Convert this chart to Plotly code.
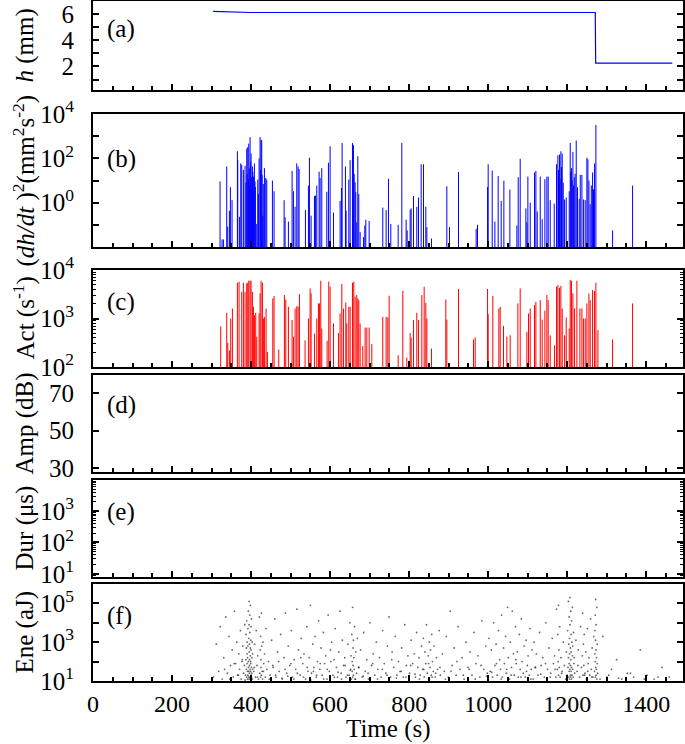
import plotly.graph_objects as go

# ---------------- data ----------------
# (a) sample height h (mm)
h_time = [304, 400, 1271, 1272, 1466]
h_val = [6.20, 6.12, 6.12, 2.25, 2.25]

# (b) (dh/dt)^2 spikes
b_time = [321.5, 326.6, 330, 338.4, 341, 345.2, 347.7, 351.9, 365.4, 366.3, 370.5, 373.9, 376.4,
          380.6, 384.8, 387, 389, 390, 391.6, 393, 394.1, 395.5, 396.5, 397.5, 399, 400, 401.5, 402,
          403.4, 404.5, 405.9, 407, 408.5, 410, 411, 414.4, 416.9, 418.5, 420.3, 422.8, 424, 425.3,
          427, 428, 429.6, 431, 433.8, 437.1, 439.7, 454, 458.2, 483.6, 486.1, 494.5, 503.8, 507.2,
          511.4, 515.6, 519, 521.5, 537.6, 545.2, 547.7, 551.9, 560.4, 562.9, 566.3, 572.2, 574.7,
          578.9, 591.6, 595.8, 600, 608.5, 625.3, 628.7, 630.4, 638.8, 640.5, 647.3, 650.7, 656.6,
          659.1, 661, 663.3, 665, 667.5, 670.1, 672.6, 676, 684.4, 687.8, 690.3, 698.8, 733.3, 741.8,
          747.7, 753.6, 772.2, 781.5, 792.4, 795, 802.6, 805.1, 811, 819.4, 823.6, 830.4, 836.3,
          842.2, 844.8, 856.5, 895.4, 902.1, 924.9, 969.6, 973, 998.4, 1000, 1010.2, 1016.9, 1025.3,
          1032.9, 1039.7, 1054.9, 1072.6, 1076, 1081, 1095.4, 1097.9, 1100.5, 1106.4, 1117.3, 1120.7,
          1124.1, 1131.7, 1136.7, 1143.5, 1148.5, 1151.9, 1157, 1167.1, 1173, 1176.4, 1178, 1180.6,
          1182, 1184, 1185.5, 1187.4, 1190, 1193.3, 1197.5, 1205.1, 1207.6, 1209, 1211, 1212.5,
          1214.4, 1216, 1217.8, 1220, 1222.8, 1226, 1230.4, 1233, 1237.2, 1241.4, 1245.6, 1249.8,
          1252.4, 1255, 1258.2, 1261, 1264.2, 1266.5, 1269.2, 1272.6, 1314.8, 1365.4]
b_val = [9.1, 0.022, 0.022, 43, 0.083, 0.43, 5.0, 1.3, 210, 83, 0.23, 59, 50,
         30, 46, 8.0, 275, 20, 325, 12, 460, 35, 6.0, 900, 70, 165, 14, 4.0,
         43, 25, 15, 3.0, 59, 9.0, 5.1, 0.11, 11, 2.5, 100, 900, 30, 690,
         640, 18, 0.26, 7.0, 36, 13, 11, 10, 3.3, 1.3, 0.22, 0.14, 27, 3.3,
         0.66, 59, 43, 33, 0.46, 5.9, 107, 0.26, 2.0, 2.1, 5.9, 25, 13,
         36, 3.1, 63, 350, 0.36, 1.2, 4.6, 490, 43, 0.43, 11, 83, 490,
         390, 20, 8.3, 3.0, 0.13, 125, 2.5, 0.047, 0.028, 0.093, 0.17, 0.15, 0.60, 0.46,
         12, 0.11, 0.10, 500, 0.17, 0.056, 0.48, 0.55, 2.0, 0.65, 1.7, 54, 54,
         0.66, 0.079, 0.024, 5.5, 0.079, 24, 0.066, 0.10, 5.1, 54, 28, 0.14, 16,
         1.2, 9.8, 3.9, 0.093, 14, 95, 0.55, 0.13, 15, 1.0, 23, 27,
         0.40, 15, 0.18, 11.5, 15, 15, 1.3, 0.91, 54, 138, 30, 148,
         12, 209, 40, 165, 8.0, 1.4, 1.7, 3.3, 500, 25, 36, 10,
         195, 6.0, 14, 20, 640, 5.0, 1.5, 18, 18, 1.4, 1.3, 107,
         90, 10, 0.85, 6.0, 23, 4.0, 59, 3200, 0.056, 5.9]

# (c) AE activity spikes (s^-1)
c_time = [323.2, 338.4, 341, 345.2, 348.5, 352.8, 365.4, 369.6, 376.4, 380.6, 384.8, 389, 391.6,
          394.1, 397.5, 400, 403.4, 405.9, 408.5, 411.8, 414.4, 420.3, 422.8, 425.3, 428.7, 431.2,
          433.8, 438, 441.4, 454.9, 458.2, 470.1, 484.4, 487.8, 494.5, 503.8, 507.2, 511.4, 515.6,
          519, 522.4, 536.7, 545.2, 549.4, 551.9, 560.4, 566.3, 570.5, 573, 576.4, 578.9, 592.4,
          596.6, 600, 608.5, 621.1, 625.3, 629.6, 633.8, 639.7, 642.2, 647.3, 650.7, 656.6, 659.9,
          663.3, 667.5, 670.1, 672.6, 676, 682.7, 688.6, 692.9, 698.8, 705.5, 733.3, 741.8, 746,
          749.4, 772.2, 784, 794.1, 802.6, 805.1, 811, 819.4, 823.6, 832.1, 838, 842.2, 844.8,
          856.5, 892.8, 895.4, 924.9, 962.9, 967.1, 998.4, 1000, 1011.8, 1027, 1030.4, 1038.8,
          1047.3, 1055.7, 1075.1, 1081, 1097.9, 1102.1, 1106.4, 1117.3, 1120.7, 1131.7, 1136.7,
          1143.5, 1148.5, 1151.9, 1157, 1168, 1173, 1176.4, 1180.6, 1184, 1187.4, 1193.3, 1197.5,
          1205.1, 1207.6, 1211, 1214.4, 1218.6, 1224.5, 1232.1, 1237.2, 1241.4, 1245.6, 1249.8,
          1254.9, 1258.2, 1264.2, 1269.2, 1272.6, 1277.7, 1314.8, 1365.4]
c_val = [690, 1310, 315, 220, 1000, 1610, 5470, 5740, 3560, 5470, 3560, 5300, 5470,
         6020, 6020, 6020, 3560, 1740, 1170, 1310, 420, 1270, 3290, 6020, 5470, 1000,
         1080, 1610, 205, 2590, 2900, 229, 3050, 2460, 1740, 930, 420, 1610, 1800,
         1740, 3180, 356, 1000, 4170, 3290, 490, 1000, 2050, 2050, 6020, 620, 347,
         5740, 4520, 790, 500, 1270, 5140, 1610, 2140, 790, 1740, 1740, 5470, 5740,
         2810, 3050, 2590, 2390, 790, 270, 650, 650, 650, 296, 1080, 1080, 1050,
         2940, 175, 3730, 156, 500, 400, 930, 1310, 930, 3050, 4520, 2100, 1000,
         240, 2460, 950, 4070, 370, 408, 4070, 1230, 2940, 1610, 1740, 706,
         420, 450, 2050, 4170, 530, 1270, 1610, 1890, 2200, 2390, 950,
         1450, 3050, 2390, 450, 280, 4520, 4900, 4310, 4700, 1610, 450, 1050,
         620, 6200, 6020, 3290, 1610, 6020, 1610, 1610, 1000, 1000, 2050,
         3290, 2390, 3860, 3730, 5470, 575, 370, 2050]

# (f) AE energy events: time (s) and log10 of energy (aJ)
ene_time = [305, 312, 318, 322, 327, 331, 336, 340, 344, 348, 352, 355, 358, 361, 364, 366, 369, 371,
            373, 375, 377, 379, 381, 383, 384,
            386, 387, 387, 388, 388, 389, 389, 390, 390, 390, 391, 391, 391, 392, 392, 392, 393, 393,
            393, 394, 394, 394, 395, 395, 395, 395, 396, 396, 396, 396, 397, 397, 397, 397, 398, 398,
            398, 398, 399, 399, 399, 399, 400, 400, 400, 401, 401, 401, 402, 402, 403, 403, 404, 404,
            407, 409, 411, 413, 415, 417, 419, 421, 422, 423, 424, 424, 425, 425, 426, 426, 427, 428,
            429, 430, 432, 434, 436, 438, 440,
            444, 448, 452, 456, 460, 463, 467, 471, 475, 479, 483, 487, 490, 494, 498, 502, 505, 509,
            513, 516, 520, 524, 527, 531, 534, 538, 541, 544, 547, 550, 553, 556, 559, 562, 565, 568,
            571, 574, 577, 580, 583, 586, 589, 592, 595, 598, 601, 604, 607, 610, 613, 616, 619, 622,
            625, 628, 631, 634, 637, 640,
            645, 648, 650, 652, 653, 654, 655, 656, 656, 657, 657, 658, 658, 659, 659, 660, 661, 662,
            663, 665, 667, 669,
            673, 677, 681, 685, 689, 693, 697, 701, 705, 709, 713, 717, 721, 725, 729, 733, 737, 741,
            745, 749, 753, 757, 761, 765, 769, 773, 777, 781, 785, 789, 793, 797,
            801, 805, 809, 813, 816, 819, 822, 825, 828, 831, 834, 836, 838, 840, 842, 844, 846, 848,
            850, 851, 853, 854, 856, 857, 859, 861, 863, 866, 869, 872, 876, 879,
            884, 889, 894, 899, 904, 909, 914, 919, 924, 929, 934, 939, 944, 949, 954, 959, 964, 969,
            974, 979, 984, 989, 994, 998,
            1002, 1005, 1008, 1011, 1014, 1017, 1020, 1023, 1026, 1029, 1031, 1034, 1036, 1039, 1041,
            1044, 1046, 1049, 1051, 1054, 1056, 1059, 1061, 1064, 1066, 1069, 1071, 1074, 1076, 1079,
            1081, 1084, 1086, 1089, 1091, 1094, 1096, 1099, 1101, 1104, 1106, 1109, 1111, 1114, 1116,
            1119,
            1122, 1126, 1130, 1134, 1138, 1142, 1146, 1150, 1154, 1158, 1162, 1165, 1168, 1171, 1173,
            1175, 1176, 1177, 1178, 1178, 1179, 1180, 1181, 1182, 1184, 1187, 1190, 1193,
            1198, 1200, 1201, 1202, 1203, 1203, 1204, 1204, 1205, 1205, 1205, 1206, 1206, 1206, 1207,
            1207, 1207, 1208, 1208, 1208, 1209, 1209, 1209, 1210, 1210, 1210, 1211, 1211, 1211, 1212,
            1212, 1213, 1213, 1214, 1214, 1215, 1216, 1217, 1218, 1219,
            1222, 1225, 1228, 1231, 1234, 1236, 1238, 1239, 1240, 1241, 1242, 1243, 1245, 1247, 1249,
            1251, 1253, 1255, 1257, 1259, 1261, 1263, 1265, 1267,
            1269, 1270, 1270, 1271, 1271, 1271, 1272, 1272, 1272, 1273, 1273, 1273, 1274, 1274, 1275,
            1275, 1276, 1276, 1277,
            1290, 1300, 1312, 1325, 1338, 1352, 1368, 1385, 1402, 1420, 1440, 1458,
            333, 346, 357, 368, 378, 385, 408, 416, 431, 446, 455, 462, 470, 478, 486, 493, 501, 508,
            517, 526, 533, 542, 551, 558, 566, 575, 584, 593, 602, 611, 620, 629, 638, 644, 651, 664,
            672, 684, 696, 708, 720, 732, 744, 756, 768, 780, 792, 804, 815, 826, 837, 849, 858, 867,
            878, 892, 906, 921, 937, 952, 967, 982, 996, 1009, 1021, 1033, 1047, 1058, 1070, 1083,
            1097, 1108, 1120, 1133, 1145, 1157, 1169, 1186, 1196, 1227, 1244, 1252, 1262, 1283, 1305,
            1330, 1360, 1395, 1430]
ene_log10 = [1.2, 2.9, 1.5, 3.8, 1.1, 2.2, 4.3, 1.4, 3.3, 1.8, 2.6, 1.2, 4.6, 1.9, 3.0, 1.3, 2.4, 1.6,
             3.6, 1.1, 2.0, 2.8, 1.4, 1.8, 3.9,
             1.3, 2.1, 3.4, 1.6, 2.7, 1.2, 4.1, 1.9, 2.4, 3.0, 1.1, 1.5, 2.2, 3.7, 1.3, 2.8, 1.7, 4.6,
             2.0, 1.2, 3.2, 1.5, 2.5, 1.1, 3.9, 5.1, 1.4, 2.1, 1.8, 2.9, 1.2, 3.5, 4.4, 1.6, 2.3, 1.1,
             2.7, 4.9, 1.5, 3.1, 1.9, 2.0, 1.3, 3.8, 2.6, 1.2, 1.7, 4.2, 2.2, 1.4, 3.0, 1.1, 2.4, 1.6,
             1.5, 2.9, 1.2, 3.6, 1.8, 2.3, 1.1, 4.3, 1.4, 2.6, 1.2, 3.3, 1.7, 2.1, 1.3, 4.5, 2.8, 1.5,
             1.1, 3.0, 1.9, 2.4, 1.2, 3.7, 1.6,
             2.0, 1.3, 3.1, 1.7, 4.2, 1.2, 2.5, 1.5, 3.4, 1.1, 2.2, 4.5, 1.4, 2.8, 1.8, 3.6, 1.2, 2.1,
             1.6, 4.7, 2.6, 1.3, 3.2, 1.9, 2.4, 1.1, 3.8, 1.5, 2.2, 4.9, 1.4, 2.9, 1.7, 3.3, 1.2, 2.0,
             4.1, 1.6, 2.7, 1.3, 3.5, 1.9, 2.3, 1.1, 4.4, 1.5, 2.6, 3.0, 1.3, 2.1, 3.7, 1.7, 1.2, 2.5,
             4.6, 1.4, 3.1, 1.8, 2.2, 1.2,
             2.9, 1.3, 4.0, 1.6, 2.3, 1.1, 3.4, 1.5, 2.0, 4.8, 1.2, 2.7, 1.8, 3.1, 1.3, 2.2, 1.6, 3.8,
             1.1, 2.5, 1.4, 3.2,
             1.7, 2.6, 1.2, 3.5, 1.5, 2.1, 1.1, 4.0, 1.8, 2.4, 1.3, 3.0, 1.6, 2.2, 1.2, 3.6, 1.9, 1.4,
             2.8, 4.3, 1.2, 2.5, 1.7, 3.3, 1.3, 2.0, 1.5, 2.7, 1.2, 3.9, 1.8, 2.3,
             1.4, 3.1, 1.9, 2.4, 1.2, 3.5, 1.7, 2.2, 1.3, 2.8, 1.6, 3.2, 1.2, 2.5, 1.9, 3.9, 1.4, 2.3,
             1.1, 3.0, 1.7, 2.6, 1.3, 3.4, 2.0, 1.5, 2.8, 1.2, 2.2, 1.6, 3.6, 1.3,
             2.4, 1.5, 3.3, 1.2, 4.6, 1.8, 2.7, 1.3, 3.8, 1.6, 2.2, 1.1, 3.0, 1.7, 2.5, 1.3, 3.5, 1.9,
             2.3, 1.2, 4.1, 1.6, 2.8, 1.4,
             3.2, 1.5, 2.6, 1.2, 4.0, 1.8, 2.9, 1.3, 3.6, 2.1, 1.6, 4.4, 1.2, 2.7, 1.9, 3.3, 1.4, 4.8,
             2.2, 1.1, 3.0, 1.7, 4.6, 2.4, 1.3, 3.8, 1.9, 2.5, 1.2, 3.4, 1.6, 4.2, 2.0, 1.4, 2.8, 1.2,
             3.1, 1.8, 2.3, 1.3, 3.7, 1.6, 2.6, 1.1, 3.0, 1.7,
             2.4, 1.3, 3.5, 1.8, 2.2, 1.2, 4.0, 1.6, 2.7, 1.4, 3.2, 1.9, 2.3, 1.2, 4.7, 1.6, 3.4, 2.0,
             1.3, 4.9, 2.6, 1.7, 3.8, 1.2, 2.2, 1.5, 3.0, 1.8,
             2.5, 1.3, 3.6, 1.7, 2.2, 5.1, 1.2, 2.9, 1.5, 4.3, 1.9, 3.2, 1.1, 2.4, 1.6, 3.9, 5.3, 1.3,
             2.7, 1.8, 4.6, 1.2, 2.1, 3.4, 1.5, 2.5, 1.1, 4.1, 1.7, 3.0, 1.3, 2.3, 4.8, 1.6, 2.8, 1.2,
             3.5, 1.9, 2.2, 1.4,
             3.1, 1.5, 2.6, 1.2, 3.8, 1.7, 2.3, 4.5, 1.3, 2.9, 1.8, 3.4, 1.4, 2.5, 1.1, 3.7, 1.9, 2.2,
             1.3, 4.2, 1.6, 2.7, 1.2, 3.3,
             1.5, 2.4, 3.6, 1.2, 4.4, 2.0, 1.7, 3.1, 5.2, 1.3, 2.6, 3.9, 1.6, 2.2, 1.1, 4.8, 1.9, 2.9,
             1.4,
             3.3, 1.2, 1.6, 2.1, 1.1, 1.4, 1.2, 2.6, 1.3, 1.1, 1.7, 1.2,
             1.6, 1.1, 1.9, 1.3, 2.1, 1.05, 1.7, 1.2, 1.5, 1.1, 1.8, 1.3, 2.0, 1.15, 1.6, 1.25, 1.9, 1.1,
             1.4, 2.2, 1.2, 1.7, 1.05, 1.5, 1.3, 1.9, 1.1, 1.6, 2.0, 1.2, 1.45, 1.1, 1.8, 1.3, 1.55, 1.1,
             1.7, 1.25, 1.4, 1.9, 1.1, 1.6, 1.3, 2.1, 1.15, 1.5, 1.2, 1.8, 1.35, 1.1, 1.6, 1.9, 1.2, 1.4,
             1.7, 1.1, 1.5, 2.0, 1.3, 1.6, 1.1, 1.8, 1.25, 1.45, 1.9, 1.1, 1.6, 1.3, 2.1, 1.2,
             1.5, 1.1, 1.7, 1.35, 1.9, 1.2, 1.6, 1.4, 1.1, 1.8, 1.3, 1.5, 1.2, 1.1, 1.3,
             1.15, 1.4, 1.1, 1.2]

# axis settings (values)
x_range = [0, 1493]
x_tickvals = [0, 200, 400, 600, 800, 1000, 1200, 1400]
a_ticks = [1, 2, 3, 4, 5, 6, 7]
a_labels = ["", "2", "", "4", "", "6", ""]
b_exps = [-1, 0, 1, 2, 3, 4]
c_exps = [2, 3, 4]
d_ticks = [30, 50, 70]
e_exps = [1, 2, 3]
f_exps = [1, 2, 3, 4, 5, 6]

titles = ["<i>h</i> (mm)",
          "(<i>dh/dt</i> )<sup>2</sup>(mm<sup>2</sup>s<sup>-2</sup>)",
          "Act (s<sup>-1</sup>)",
          "Amp (dB)",
          "Dur (\u03bcs)",
          "Ene (aJ)"]
letters = ["(a)", "(b)", "(c)", "(d)", "(e)", "(f)"]

# ---------------- figure ----------------
W, H = 685, 744
FONT = "Liberation Serif, Times New Roman, serif"
FS = 25

# panel pixel boxes (top, bottom)
boxes = [(1, 90), (114, 247), (270, 367), (375, 472), (480, 577), (584, 681)]
x0_px, x1_px = 93, 683


def spikes(t, v, base):
    xs, ys = [], []
    for ti, vi in zip(t, v):
        xs += [ti, ti, None]
        ys += [base, vi, None]
    return xs, ys


fig = go.Figure()

fig.add_trace(go.Scatter(x=h_time, y=h_val, mode="lines",
                         line=dict(color="#0000ff", width=1.2), xaxis="x", yaxis="y"))
bx, by = spikes(b_time, b_val, 1e-3)
fig.add_trace(go.Scatter(x=bx, y=by, mode="lines", connectgaps=False,
                         line=dict(color="#0000ff", width=1), xaxis="x2", yaxis="y2"))
cx, cy = spikes(c_time, c_val, 50)
fig.add_trace(go.Scatter(x=cx, y=cy, mode="lines", connectgaps=False,
                         line=dict(color="#ff0000", width=1), xaxis="x3", yaxis="y3"))
# empty panels (d), (e)
fig.add_trace(go.Scatter(x=[None], y=[None], xaxis="x4", yaxis="y4"))
fig.add_trace(go.Scatter(x=[None], y=[None], xaxis="x5", yaxis="y5"))
fig.add_trace(go.Scatter(x=ene_time, y=[10 ** e for e in ene_log10], mode="markers",
                         marker=dict(color="rgba(0,0,0,0.6)", size=1.8, line=dict(width=0)),
                         xaxis="x6", yaxis="y6"))

xdom = [x0_px / W, x1_px / W]


def sup(e):
    return "10<sup>%d</sup>" % e


layout = dict(width=W, height=H, margin=dict(l=0, r=0, t=0, b=0),
              paper_bgcolor="white", plot_bgcolor="white", showlegend=False,
              font=dict(family=FONT, size=FS, color="black"))

common_x = dict(range=x_range, showgrid=False, zeroline=False, showline=True, linewidth=2,
                linecolor="black", mirror=True, ticks="inside", ticklen=6, tickwidth=1.5,
                tickcolor="black", tickvals=x_tickvals,
                minor=dict(dtick=50, ticks="inside", ticklen=4, tickwidth=1.5, tickcolor="black"),
                domain=xdom, automargin=False)
common_y = dict(showgrid=False, zeroline=False, showline=True, linewidth=2, linecolor="black",
                mirror="ticks", ticks="inside", ticklen=6, tickwidth=1.5, tickcolor="black",
                automargin=False, ticklabelstandoff=12)

yspecs = [
    dict(type="linear", range=[0.2, 7.0], tickmode="array", tickvals=a_ticks, ticktext=a_labels),
    dict(type="log", range=[-2, 4], tickmode="array", tickvals=[10 ** e for e in b_exps],
         ticktext=[sup(e) if e % 2 == 0 else "" for e in b_exps]),
    dict(type="log", range=[2, 4], tickmode="array", tickvals=[10 ** e for e in c_exps],
         ticktext=[sup(e) for e in c_exps],
         minor=dict(dtick="D1", ticks="inside", ticklen=3, tickwidth=1, tickcolor="black")),
    dict(type="linear", range=[28, 79.5], tickmode="array", tickvals=d_ticks,
         ticktext=[str(v) for v in d_ticks]),
    dict(type="log", range=[0.9, 3.99], tickmode="array", tickvals=[10 ** e for e in e_exps],
         ticktext=[sup(e) for e in e_exps],
         minor=dict(dtick="D1", ticks="inside", ticklen=3, tickwidth=1, tickcolor="black")),
    dict(type="log", range=[1, 6], tickmode="array", tickvals=[10 ** e for e in f_exps],
         ticktext=[sup(e) if e % 2 == 1 else "" for e in f_exps]),
]

annotations = []
for i, (top, bot) in enumerate(boxes):
    n = "" if i == 0 else str(i + 1)
    xa = dict(common_x)
    xa["anchor"] = "y" + n
    xa["showticklabels"] = (i == 5)
    if i == 5:
        xa["ticklabelstandoff"] = 0
        xa["tickfont"] = dict(size=24)
    ya = dict(common_y)
    ya.update(yspecs[i])
    ya["anchor"] = "x" + n
    ya["domain"] = [1 - bot / H, 1 - top / H]
    layout["xaxis" + n] = xa
    layout["yaxis" + n] = ya
    yc = 1 - (top + bot) / 2 / H
    annotations.append(dict(text=titles[i], x=24 / W, y=yc, xref="paper", yref="paper",
                            xanchor="center", yanchor="middle", textangle=-90,
                            showarrow=False, font=dict(size=FS)))
letter_y = [29, 159, 302, 405, 512, 616]
for i, ly in enumerate(letter_y):
    annotations.append(dict(text=letters[i], x=105 / W, y=1 - ly / H, xref="paper", yref="paper",
                            xanchor="left", yanchor="middle", showarrow=False,
                            font=dict(size=FS)))
# x-axis title
annotations.append(dict(text="Time (s)", x=(x0_px + x1_px) / 2 / W, y=1 - 729 / H,
                        xref="paper", yref="paper", xanchor="center", yanchor="middle",
                        showarrow=False, font=dict(size=FS)))
layout["annotations"] = annotations

fig.update_layout(**layout)
fig.write_html("out.html", config={"displayModeBar": False},
               post_script="document.body.style.margin='0';document.body.style.padding='0';")
